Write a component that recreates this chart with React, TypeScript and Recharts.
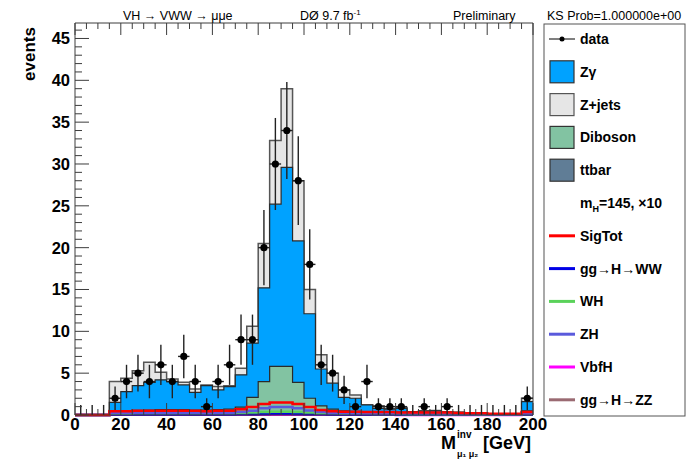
import React from 'react';
import { ComposedChart, Area, Line, Scatter, ErrorBar, XAxis, YAxis } from 'recharts';

// 5 GeV bins, 0-200 GeV
const binEdges = [0, 5, 10, 15, 20, 25, 30, 35, 40, 45, 50, 55, 60, 65, 70, 75, 80, 85, 90, 95, 100,
  105, 110, 115, 120, 125, 130, 135, 140, 145, 150, 155, 160, 165, 170, 175, 180, 185, 190, 195, 200];

// backgrounds (per-bin contributions, stacked below)
const ttbar = [0, 0, 0, 0.25, 0.25, 0.25, 0.3, 0.3, 0.3, 0.3, 0.3, 0.3, 0.3, 0.3, 0.3, 0.35, 0.35, 0.35, 0.35, 0.35,
  0.3, 0.3, 0.3, 0.3, 0.3, 0.25, 0.25, 0.2, 0.2, 0.2, 0.2, 0.2, 0.15, 0.15, 0.1, 0.1, 0.1, 0.1, 0.1, 0.3];
const diboson = [0, 0, 0, 0.25, 0.25, 0.3, 0.3, 0.35, 0.35, 0.35, 0.3, 0.3, 0.35, 0.4, 0.65, 1.75, 3.65, 5.45, 5.45, 3.55,
  1.7, 0.8, 0.4, 0.2, 0.15, 0.15, 0.15, 0.15, 0.15, 0.2, 0.1, 0.1, 0.1, 0.1, 0.05, 0.05, 0.02, 0.02, 0.02, 0.2];
const zgamma = [0, 0, 0, 1.0, 2.3, 2.95, 3.3, 3.55, 3.35, 2.95, 2.1, 2.9, 2.35, 2.7, 3.85, 6.5, 11.2, 19.4, 23.8, 16.9,
  10.1, 4.4, 3.1, 1.6, 1.55, 0.8, 0.4, 0.35, 0.45, 0, 0.15, 0.2, 0.1, 0.05, 0.05, 0, 0.03, 0.03, 0.03, 1.1];
const zjets = [0, 0, 0, 2.5, 1.6, 1.8, 2.4, 0.9, 0.3, 0.3, 0.4, 0.1, 0.4, 0.1, 0.8, 2.0, 5.3, 7.6, 9.4, 7.2,
  2.9, 1.7, 1.2, 0.9, 0.4, 0, 0.3, 0.05, 0.1, 0, 0.05, 0.05, 0.05, 0.05, 0, 0, 0, 0, 0, 0.4];

// signal, mH=145, x10
const sigTot = [0, 0, 0, 0.45, 0.45, 0.5, 0.5, 0.5, 0.5, 0.5, 0.5, 0.45, 0.5, 0.5, 0.7, 0.95, 1.3, 1.5, 1.5, 1.3,
  0.95, 0.6, 0.45, 0.4, 0.4, 0.35, 0.35, 0.35, 0.3, 0.3, 0.3, 0.3, 0.3, 0.25, 0.2, 0.2, 0.15, 0.15, 0.15, 0.35];
const ggHWW = [0, 0, 0, 0.05, 0.05, 0.05, 0.05, 0.05, 0.06, 0.06, 0.06, 0.06, 0.06, 0.06, 0.08, 0.1, 0.12, 0.14, 0.14, 0.12,
  0.1, 0.08, 0.06, 0.06, 0.05, 0.05, 0.05, 0.05, 0.04, 0.04, 0.04, 0.04, 0.03, 0.03, 0.03, 0.03, 0.02, 0.02, 0.02, 0.05];
const wh = [0, 0, 0, 0.15, 0.15, 0.2, 0.2, 0.2, 0.2, 0.2, 0.2, 0.2, 0.2, 0.2, 0.25, 0.3, 0.35, 0.4, 0.4, 0.35,
  0.3, 0.2, 0.2, 0.15, 0.15, 0.15, 0.12, 0.12, 0.12, 0.1, 0.1, 0.1, 0.1, 0.08, 0.08, 0.06, 0.06, 0.05, 0.05, 0.12];
const zh = [0, 0, 0, 0.2, 0.2, 0.25, 0.25, 0.25, 0.25, 0.25, 0.25, 0.2, 0.25, 0.25, 0.35, 0.5, 0.8, 0.95, 0.95, 0.8,
  0.55, 0.35, 0.2, 0.2, 0.15, 0.15, 0.15, 0.15, 0.12, 0.12, 0.1, 0.1, 0.1, 0.1, 0.08, 0.08, 0.05, 0.05, 0.05, 0.15];
const vbfH = [0, 0, 0, 0.02, 0.02, 0.02, 0.02, 0.02, 0.02, 0.02, 0.02, 0.02, 0.02, 0.02, 0.03, 0.03, 0.04, 0.04, 0.04, 0.04,
  0.03, 0.03, 0.02, 0.02, 0.02, 0.02, 0.02, 0.02, 0.01, 0.01, 0.01, 0.01, 0.01, 0.01, 0.01, 0.01, 0.01, 0.01, 0.01, 0.02];
const ggHZZ = [0, 0, 0, 0.1, 0.1, 0.12, 0.12, 0.12, 0.12, 0.12, 0.12, 0.1, 0.12, 0.12, 0.15, 0.2, 0.25, 0.3, 0.3, 0.25,
  0.2, 0.15, 0.12, 0.1, 0.1, 0.1, 0.08, 0.08, 0.08, 0.08, 0.06, 0.06, 0.06, 0.05, 0.05, 0.05, 0.04, 0.04, 0.04, 0.1];

// data
const dataCounts = [0, 0, 0, 2, 4, 5, 4, 6, 4, 7, 4, 1, 4, 6, 9, 9, 20, 30, 34, 28,
  18, 6, 5, 3, 1, 4, 1, 1, 1, 0, 1, 0, 1, 0, 0, 0, 0, 0, 0, 2];
const errLow = [0, 0, 0, 1.4, 2, 2.2, 2, 2.4, 2, 2.6, 2, 1, 2, 2.4, 3, 3, 4.5, 5.5, 5.8, 5.3,
  4.2, 2.4, 2.2, 1.7, 1, 2, 1, 1, 1, 0, 1, 0, 1, 0, 0, 0, 0, 0, 0, 1.4];
const errHigh = [1.2, 1.2, 1.2, 1.4, 2, 2.2, 2, 2.4, 2, 2.6, 2, 1, 2, 2.4, 3, 3, 4.5, 5.5, 5.8, 5.3,
  4.2, 2.4, 2.2, 1.7, 1, 2, 1, 1, 1, 1.2, 1, 1.2, 1, 1.2, 1.2, 1.2, 1.2, 1.2, 1.2, 1.4];

const xTicks = binEdges;
const yTicks = [0, 1, 2, 3, 4, 5, 6, 7, 8, 9, 10, 11, 12, 13, 14, 15, 16, 17, 18, 19, 20, 21, 22, 23,
  24, 25, 26, 27, 28, 29, 30, 31, 32, 33, 34, 35, 36, 37, 38, 39, 40, 41, 42, 43, 44, 45, 46];

const table = binEdges.map((x, i) => {
  const b = Math.min(i, 39);
  const tt = ttbar[b];
  const dib = tt + diboson[b];
  const zg = dib + zgamma[b];
  const tot = zg + zjets[b];
  return { x, tt, dib, zg, tot, sigTot: sigTot[b], ggHWW: ggHWW[b], wh: wh[b], zh: zh[b], vbfH: vbfH[b], ggHZZ: ggHZZ[b] };
});

const points = dataCounts.map((n, i) => ({
  x: binEdges[i] + 2.5,
  y: n,
  ey: [errLow[i], errHigh[i]],
  ex: n > 0 ? 2.5 : 0,
}));

const font = 'Liberation Sans, Arial, Helvetica, sans-serif';
const axisCol = '#3c3c3c';

const BottomTick = (p: any) => {
  const v = p.payload.value;
  const major = v % 20 === 0;
  return (
    <g>
      <line x1={p.x} x2={p.x} y1={p.y} y2={p.y - (major ? 12 : 6)} stroke={axisCol} />
      {major && (
        <text x={p.x} y={p.y + 15} textAnchor="middle" fontFamily={font} fontWeight="bold" fontSize={17} fill="#000">
          {v}
        </text>
      )}
    </g>
  );
};

const TopTick = (p: any) => {
  const major = p.payload.value % 20 === 0;
  return <line x1={p.x} x2={p.x} y1={p.y} y2={p.y + (major ? 12 : 6)} stroke={axisCol} />;
};

const LeftTick = (p: any) => {
  const v = p.payload.value;
  const major = v % 5 === 0;
  return (
    <g>
      <line x1={p.x} x2={p.x + (major ? 14 : 7)} y1={p.y} y2={p.y} stroke={axisCol} />
      {major && (
        <text x={p.x - 5} y={p.y + 6} textAnchor="end" fontFamily={font} fontWeight="bold" fontSize={16.5} fill="#000">
          {v}
        </text>
      )}
    </g>
  );
};

const RightTick = (p: any) => {
  const major = p.payload.value % 5 === 0;
  return <line x1={p.x} x2={p.x - (major ? 14 : 7)} y1={p.y} y2={p.y} stroke={axisCol} />;
};

const DataDot = (p: any) =>
  p.payload.y > 0 ? <circle cx={p.cx} cy={p.cy} r={3.6} fill="#000" /> : <g />;

const legendFills = [
  { label: 'Zγ', fill: '#00a2ff', stroke: '#333' },
  { label: 'Z+jets', fill: '#e6e6e6', stroke: '#555' },
  { label: 'Diboson', fill: '#82c3a2', stroke: '#333' },
  { label: 'ttbar', fill: '#607d96', stroke: '#333' },
];
const legendLines = [
  { label: 'SigTot', color: '#ff0000' },
  { label: 'gg→H→WW', color: '#0000e6' },
  { label: 'WH', color: '#5ad25a' },
  { label: 'ZH', color: '#5a5adc' },
  { label: 'VbfH', color: '#ff00ff' },
  { label: 'gg→H→ZZ', color: '#9a6a72' },
];

export default function App() {
  const step = 32.8;
  return (
    <div style={{ position: 'absolute', left: 0, top: 0, width: 698, height: 459, background: '#fff' }}>
      <ComposedChart width={698} height={459} data={table} margin={{ top: 0, right: 0, bottom: 0, left: 0 }}>
        <XAxis xAxisId="b" dataKey="x" type="number" domain={[0, 200]} ticks={xTicks} interval={0}
          height={44} tickSize={0} tickMargin={0} tickLine={false} axisLine={{ stroke: axisCol }} tick={<BottomTick />} />
        <XAxis xAxisId="t" orientation="top" dataKey="x" type="number" domain={[0, 200]} ticks={xTicks} interval={0}
          height={23} tickSize={0} tickMargin={0} tickLine={false} axisLine={{ stroke: axisCol }} tick={<TopTick />} />
        <YAxis yAxisId="l" type="number" domain={[0, 46.85]} ticks={yTicks} interval={0} width={75}
          tickSize={0} tickMargin={0} tickLine={false} axisLine={{ stroke: axisCol }} tick={<LeftTick />} />
        <YAxis yAxisId="r" orientation="right" type="number" domain={[0, 46.85]} ticks={yTicks} interval={0} width={165}
          tickSize={0} tickMargin={0} tickLine={false} axisLine={{ stroke: axisCol }} tick={<RightTick />} />

        <Area xAxisId="b" yAxisId="l" type="stepAfter" dataKey="tot" fill="#e6e6e6" fillOpacity={1}
          stroke="#555" strokeWidth={1.5} dot={false} activeDot={false} isAnimationActive={false} />
        <Area xAxisId="b" yAxisId="l" type="stepAfter" dataKey="zg" fill="#00a2ff" fillOpacity={1}
          stroke="#2a2a2a" strokeWidth={1.2} dot={false} activeDot={false} isAnimationActive={false} />
        <Area xAxisId="b" yAxisId="l" type="stepAfter" dataKey="dib" fill="#82c3a2" fillOpacity={1}
          stroke="#2a2a2a" strokeWidth={1.2} dot={false} activeDot={false} isAnimationActive={false} />
        <Area xAxisId="b" yAxisId="l" type="stepAfter" dataKey="tt" fill="#607d96" fillOpacity={1}
          stroke="#2a2a2a" strokeWidth={1} dot={false} activeDot={false} isAnimationActive={false} />

        <Line xAxisId="b" yAxisId="l" type="stepAfter" dataKey="ggHZZ" stroke="#9a6a72" strokeWidth={2.5} dot={false} isAnimationActive={false} />
        <Line xAxisId="b" yAxisId="l" type="stepAfter" dataKey="vbfH" stroke="#ff00ff" strokeWidth={2.5} dot={false} isAnimationActive={false} />
        <Line xAxisId="b" yAxisId="l" type="stepAfter" dataKey="ggHWW" stroke="#0000e6" strokeWidth={2.5} dot={false} isAnimationActive={false} />
        <Line xAxisId="b" yAxisId="l" type="stepAfter" dataKey="wh" stroke="#5ad25a" strokeWidth={2.5} dot={false} isAnimationActive={false} />
        <Line xAxisId="b" yAxisId="l" type="stepAfter" dataKey="zh" stroke="#5a5adc" strokeWidth={2.5} dot={false} isAnimationActive={false} />
        <Line xAxisId="b" yAxisId="l" type="stepAfter" dataKey="sigTot" stroke="#ff0000" strokeWidth={2.5} dot={false} isAnimationActive={false} />

        <Scatter xAxisId="b" yAxisId="l" data={points} dataKey="y" shape={<DataDot />} isAnimationActive={false}>
          <ErrorBar dataKey="ey" direction="y" width={0} stroke="#222" strokeWidth={1.4} />
          <ErrorBar dataKey="ex" direction="x" width={0} stroke="#222" strokeWidth={1.4} />
        </Scatter>
      </ComposedChart>

      <svg width={698} height={459} style={{ position: 'absolute', left: 0, top: 0, pointerEvents: 'none' }} fontFamily={font}>
        <text x={123} y={20} fontSize={12.5}>VH → VWW → μμe</text>
        <text x={300} y={20} fontSize={12.5}>DØ 9.7 fb<tspan dy={-5} fontSize={8}>-1</tspan></text>
        <text x={453} y={20} fontSize={12.5}>Preliminary</text>
        <text x={547} y={20} fontSize={12.5}>KS Prob=1.000000e+00</text>

        <text transform="translate(35,27) rotate(-90)" textAnchor="end" fontSize={17} fontWeight="bold">events</text>

        <text x={441} y={449} fontSize={18} fontWeight="bold">M</text>
        <text x={457} y={438} fontSize={10} fontWeight="bold">inv</text>
        <text x={457} y={457} fontSize={9} fontWeight="bold">μ₁ μ₂</text>
        <text x={483} y={449} fontSize={18} fontWeight="bold">[GeV]</text>

        <rect x={544} y={24} width={141} height={392} fill="#fff" stroke="#555" />
        <line x1={549} x2={575} y1={39} y2={39} stroke="#000" />
        <circle cx={562} cy={39} r={2.5} fill="#000" />
        <text x={580} y={44} fontSize={14} fontWeight="bold">data</text>
        {legendFills.map((e, i) => {
          const cy = 39 + step * (i + 1);
          return (
            <g key={e.label}>
              <rect x={550} y={cy - 11} width={24} height={22} fill={e.fill} stroke={e.stroke} strokeWidth={1.2} />
              <text x={580} y={cy + 5} fontSize={14} fontWeight="bold">{e.label}</text>
            </g>
          );
        })}
        <text x={580} y={39 + step * 5 + 5} fontSize={14} fontWeight="bold">
          m<tspan dy={4} fontSize={9}>H</tspan><tspan dy={-4}>=145, ×10</tspan>
        </text>
        {legendLines.map((e, i) => {
          const cy = 39 + step * (i + 6);
          return (
            <g key={e.label}>
              <line x1={549} x2={575} y1={cy} y2={cy} stroke={e.color} strokeWidth={3} />
              <text x={580} y={cy + 5} fontSize={14} fontWeight="bold">{e.label}</text>
            </g>
          );
        })}
      </svg>
    </div>
  );
}
